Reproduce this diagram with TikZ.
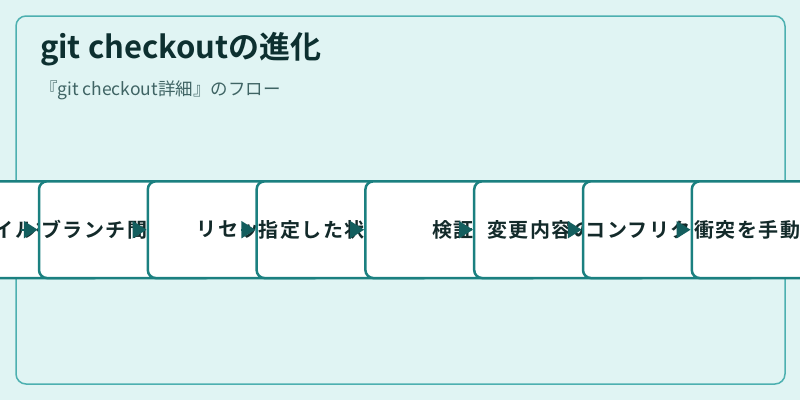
\documentclass[tikz,border=0pt]{standalone}
\usepackage{xcolor}
\usepackage{fontspec}
\setmainfont{Noto Sans CJK JP}[BoldFont={Noto Sans CJK JP Bold}]
\newfontfamily\stagefont{Noto Sans CJK JP}[BoldFont={Noto Sans CJK JP Bold}, LetterSpace=7.5]
\usepackage{tikz}
\usetikzlibrary{calc}
\usetikzlibrary{arrows.meta}

\definecolor{pagebg}{HTML}{E0F4F3}
\definecolor{panelline}{HTML}{4DB0B0}
\definecolor{stageline}{HTML}{1B8080}
\definecolor{flowhead}{HTML}{135E5E}
\definecolor{ink}{HTML}{132A2A}
\definecolor{titleink}{HTML}{0D3030}
\definecolor{subink}{HTML}{3F6464}

\tikzstyle{every node}=[inner sep=0pt, outer sep=0pt]
\tikzstyle{stage}=[draw=stageline, fill=white, line width=2.5pt, rounded corners=8pt,
    minimum width=175pt, minimum height=96.7pt, text=ink,
    font=\stagefont\bfseries\fontsize{20}{24}\selectfont]
\tikzstyle{flow}=[-{Triangle[length=14pt,width=17pt]}, draw=flowhead, line width=2pt,
    shorten <=6pt, shorten >=1.2pt]

\begin{document}
\begin{tikzpicture}[x=1pt, y=-1pt]
            \def\firstx{17.7}
            \def\stepx{108.8}
            \def\rowy{229.7}

            \useasboundingbox (0, 0) rectangle (800, 400);
            \clip (0, 0) rectangle (800, 400);
            \fill [pagebg] (0, 0) rectangle (800, 400);

            % panel
            \draw [panelline, line width=1.5pt, rounded corners=10pt] (16, 16) rectangle (785, 384);

            \node [anchor=base west, text=titleink, font=\bfseries\fontsize{31}{36}\selectfont] (title) at (40, 58) {git checkoutの進化};
            \node [anchor=base west, text=subink, font=\fontsize{17.5}{21}\selectfont] (subtitle) at (40, 95) {『git checkout詳細』のフロー};

            % stages, each one laid over the one before
            \node [stage] (s1) at (\firstx-3, \rowy) {ファイル復元};
            \node [stage] (s2) at (\firstx+\stepx, \rowy) {ブランチ間の移動};
            \node [stage] (s3) at (\firstx+2*\stepx, \rowy) {\hspace{7pt}リセット};
            \node [stage] (s4) at (\firstx+3*\stepx, \rowy) {指定した状態復元};
            \node [stage] (s5) at (\firstx+4*\stepx, \rowy) {検証};
            \node [stage] (s6) at (\firstx+5*\stepx, \rowy) {変更内容の確認};
            \node [stage] (s7) at (\firstx+6*\stepx, \rowy) {コンフリクト解消};
            \node [stage] (s8) at (\firstx+7*\stepx, \rowy) {衝突を手動で解決};

            \draw [flow] (s1.center) -- (s2.west);
            \draw [flow] (s2.center) -- (s3.west);
            \draw [flow] (s3.center) -- (s4.west);
            \draw [flow] (s4.center) -- (s5.west);
            \draw [flow] (s5.center) -- (s6.west);
            \draw [flow] (s6.center) -- (s7.west);
            \draw [flow] (s7.center) -- (s8.west);
        \end{tikzpicture}
\end{document}
